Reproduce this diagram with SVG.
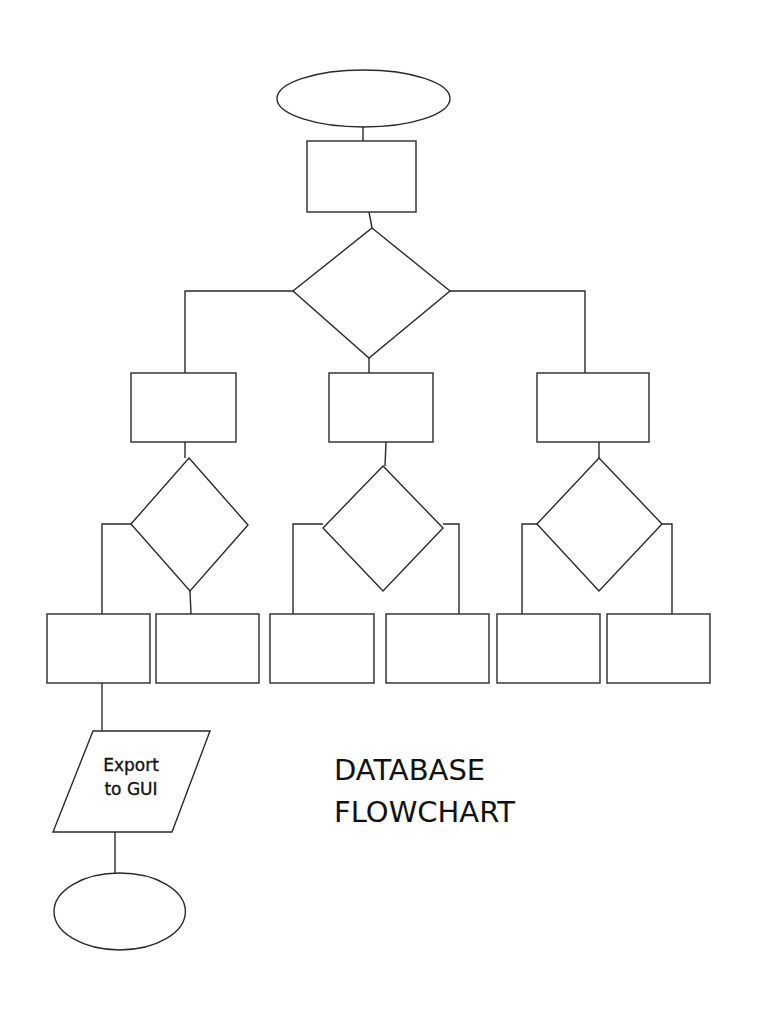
<svg xmlns="http://www.w3.org/2000/svg" width="768" height="1024" viewBox="0 0 768 1024">
<style>
.s{fill:#fff;stroke:#2a2a2a;stroke-width:1.4}
.c{fill:none;stroke:#2a2a2a;stroke-width:1.4}
.t{font-family:"DejaVu Sans","Liberation Sans",sans-serif;fill:#111}
.e{font-size:17px;stroke:#111;stroke-width:0.35}
</style>
<rect width="768" height="1024" fill="#fff"/>
<g id="connectors">
<path class="c" d="M363 127V141"/>
<path class="c" d="M369 212L372 228"/>
<path class="c" d="M293 291H185V373"/>
<path class="c" d="M450 291H585V373"/>
<path class="c" d="M369 358V373"/>
<path class="c" d="M185 442V458"/>
<path class="c" d="M386 442L385 466"/>
<path class="c" d="M599 442V458"/>
<path class="c" d="M131 524H102V614"/>
<path class="c" d="M190 591L191 614"/>
<path class="c" d="M323 524H293V614"/>
<path class="c" d="M443 524H459V614"/>
<path class="c" d="M537 524H522V614"/>
<path class="c" d="M662 524H672V614"/>
<path class="c" d="M102 683V731"/>
<path class="c" d="M115 832V873"/>
</g>
<g id="start"><ellipse class="s" cx="363.5" cy="98.5" rx="86.5" ry="28.5"/></g>
<g id="box1"><rect class="s" x="307" y="141" width="109" height="71"/></g>
<g id="dec1"><polygon class="s" points="372,228 450,291 369,358 293,291"/></g>
<g id="boxL"><rect class="s" x="131" y="373" width="105" height="69"/></g>
<g id="boxM"><rect class="s" x="329" y="373" width="104" height="69"/></g>
<g id="boxR"><rect class="s" x="537" y="373" width="112" height="69"/></g>
<g id="decL"><polygon class="s" points="189,458 248,525 190,591 131,524"/></g>
<g id="decM"><polygon class="s" points="383,466 443,528 383,591 323,528"/></g>
<g id="decR"><polygon class="s" points="599,458 662,524 599,591 537,524"/></g>
<g id="boxA"><rect class="s" x="47" y="614" width="103" height="69"/></g>
<g id="boxB"><rect class="s" x="156" y="614" width="103" height="69"/></g>
<g id="boxC"><rect class="s" x="270" y="614" width="104" height="69"/></g>
<g id="boxD"><rect class="s" x="386" y="614" width="103" height="69"/></g>
<g id="boxE"><rect class="s" x="497" y="614" width="103" height="69"/></g>
<g id="boxF"><rect class="s" x="607" y="614" width="103" height="69"/></g>
<g id="export">
<polygon class="s" points="93,731 210,731 172,832 53,832"/>
<text class="t e" x="131" y="771" text-anchor="middle">Export</text>
<text class="t e" x="131" y="795" text-anchor="middle">to GUI</text>
</g>
<g id="end"><ellipse class="s" cx="119.7" cy="911.5" rx="65.7" ry="38.5"/></g>
<g id="title">
<text class="t" x="334" y="780" font-size="29">DATABASE</text>
<text class="t" x="334" y="822" font-size="29">FLOWCHART</text>
</g>
</svg>
